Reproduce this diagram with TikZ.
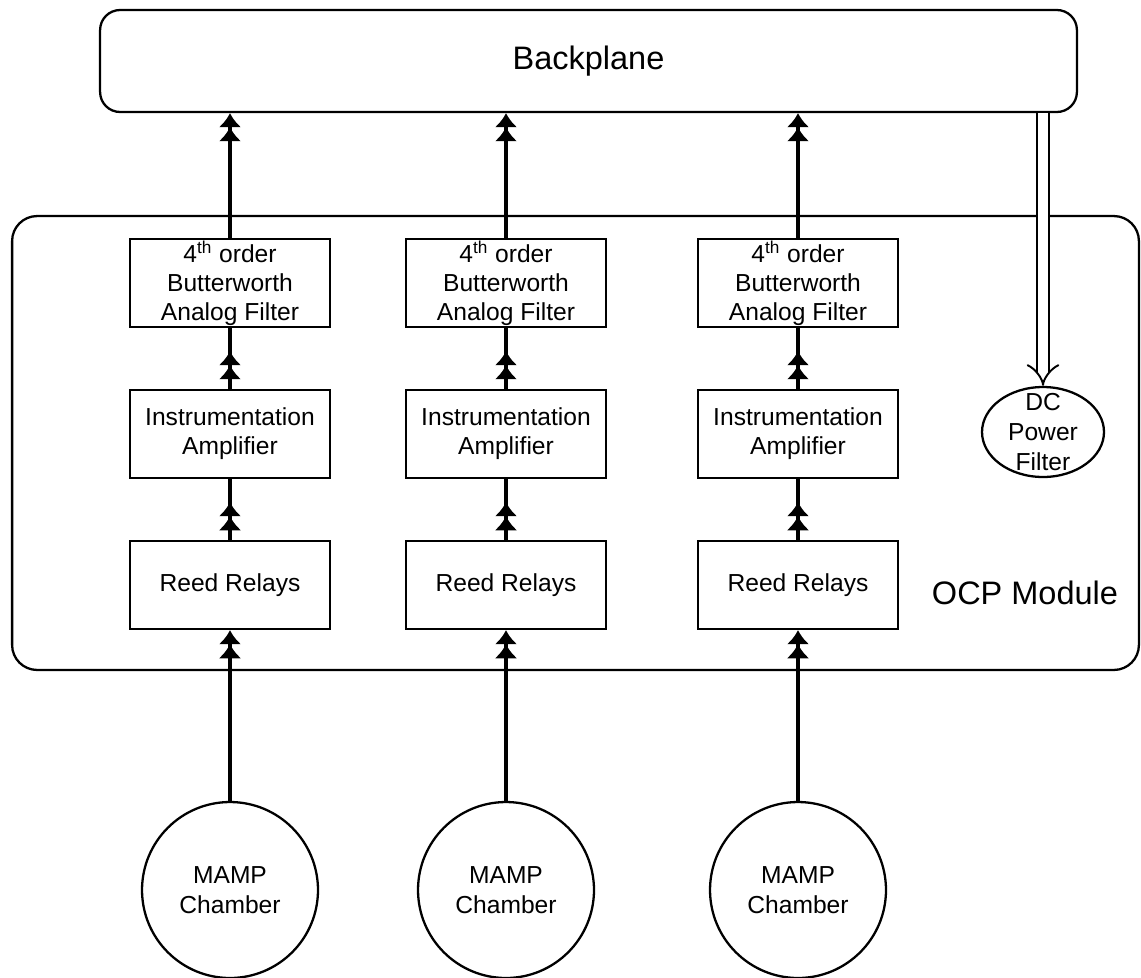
\documentclass[tikz,border=0pt]{standalone}
\usepackage{fontspec}
\setmainfont{Liberation Sans}
\usetikzlibrary{arrows.meta,positioning,shapes.geometric}

\begin{document}
\begin{tikzpicture}
		[x=0.02cm,y=-0.02cm,
		block node/.style={draw,line width=1.3pt,minimum width=4cm,minimum height=1.76cm,inner sep=0pt,align=center,font=\fontsize{14}{16.5}\selectfont},
		chamber node/.style={draw,circle,line width=1.3pt,minimum size=3.52cm,inner sep=0pt,align=center,font=\fontsize{14}{17}\selectfont},
		wire/.style={line width=2.6pt},
		sig/.style={wire,-{Latex[length=8pt,width=13pt]Latex[length=8pt,width=13pt]}},
		mid sig/.style={sig,shorten >=0.46cm}]
		\def \filt {4\textsuperscript{th} order\\Butterworth\\Analog Filter}
		\useasboundingbox (0,0) rectangle (1141,977);
		
		\node[draw,rounded corners=0.4cm,line width=1.3pt,minimum width=19.54cm,minimum height=2.04cm,font=\fontsize{18.5}{22}\selectfont] (bp) at (588.5,61) {Backplane};
		\node[draw,rounded corners=0.5cm,line width=1.3pt,minimum width=22.54cm,minimum height=9.08cm] (ocp) at (575.5,443) {};
		\node[font=\fontsize{18.5}{22}\selectfont] (ocplabel) at (1025,593) {OCP Module};
		
		\node[block node] (filter1) at (230,283) {\filt};
		\node[block node] (filter2) at (506,283) {\filt};
		\node[block node] (filter3) at (798,283) {\filt};
		
		\node[block node] (amp1) at (230,434) {Instrumentation\\Amplifier};
		\node[block node] (amp2) at (506,434) {Instrumentation\\Amplifier};
		\node[block node] (amp3) at (798,434) {Instrumentation\\Amplifier};
		
		\node[block node] (relay1) at (230,585) {Reed Relays};
		\node[block node] (relay2) at (506,585) {Reed Relays};
		\node[block node] (relay3) at (798,585) {Reed Relays};
		
		\node[chamber node] (mamp1) at (230,890) {MAMP\\Chamber};
		\node[chamber node] (mamp2) at (506,890) {MAMP\\Chamber};
		\node[chamber node] (mamp3) at (798,890) {MAMP\\Chamber};
		
		\node[draw,ellipse,line width=1.3pt,minimum width=2.44cm,minimum height=1.8cm,inner sep=0pt] (dc) at (1043,432) {};
		\node[align=center,font=\fontsize{14}{17}\selectfont] (dclabel) at (dc) {DC\\Power\\Filter};
		
		\draw[sig] (mamp1) to (relay1);
		\draw[sig] (mamp2) to (relay2);
		\draw[sig] (mamp3) to (relay3);
		
		\draw[wire] (relay1) to (amp1);
		\draw[wire] (relay2) to (amp2);
		\draw[wire] (relay3) to (amp3);
		\draw[mid sig] (relay1) to (amp1);
		\draw[mid sig] (relay2) to (amp2);
		\draw[mid sig] (relay3) to (amp3);
		
		\draw[wire] (amp1) to (filter1);
		\draw[wire] (amp2) to (filter2);
		\draw[wire] (amp3) to (filter3);
		\draw[mid sig] (amp1) to (filter1);
		\draw[mid sig] (amp2) to (filter2);
		\draw[mid sig] (amp3) to (filter3);
		
		\draw[sig] (filter1) to (filter1 |- bp.south);
		\draw[sig] (filter2) to (filter2 |- bp.south);
		\draw[sig] (filter3) to (filter3 |- bp.south);
		
		\draw[line width=1.1pt,double=white,double distance=5.5pt,-Implies] (dc.north |- bp.south) to (dc.north);
		\end{tikzpicture}
\end{document}
